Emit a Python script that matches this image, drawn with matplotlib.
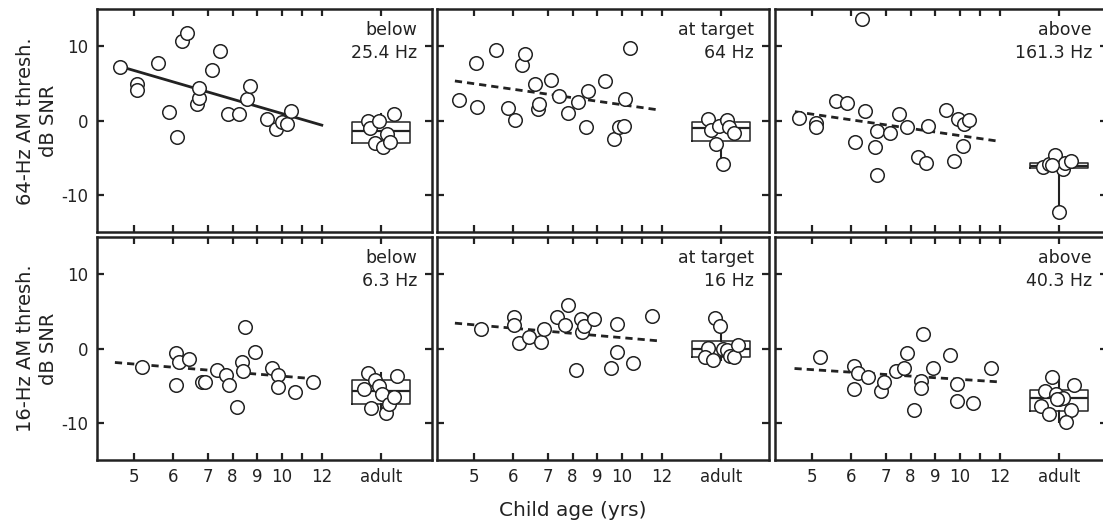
import numpy as np
import matplotlib.pyplot as plt

plt.rcParams['font.family'] = 'DejaVu Sans'
plt.rcParams['axes.unicode_minus'] = False

# ---- data ----
# child ages (yrs) and thresholds (dB SNR) per panel, row-major
age_64_below = [4.66, 5.09, 5.09, 5.61, 5.90, 6.10, 6.26, 6.39, 6.67, 6.75, 6.75,
                7.15, 7.49, 7.83, 8.28, 8.57, 8.71, 9.38, 9.76, 9.99, 10.26, 10.43]
thr_64_below = [7.24, 4.98, 4.16, 7.69, 1.22, -2.17, 10.77, 11.76, 2.26, 3.08, 4.43,
                6.79, 9.41, 0.90, 0.90, 2.94, 4.66, 0.23, -1.13, -0.23, -0.45, 1.36]

age_64_at = [4.62, 5.06, 5.08, 5.56, 5.86, 6.05, 6.24, 6.34, 6.63, 6.72, 6.74, 7.11,
             7.46, 7.83, 8.23, 8.64, 8.55, 9.31, 9.69, 9.89, 10.10, 10.15, 10.40]
thr_64_at = [2.85, 7.78, 1.90, 9.50, 1.67, 0.09, 7.47, 8.96, 4.89, 1.58, 2.26, 5.52,
             3.26, 1.04, 2.58, 3.98, -0.90, 5.29, -2.49, -0.81, -0.68, 2.94, 9.73]

age_64_above = [4.67, 5.11, 5.11, 5.61, 5.88, 6.30, 6.11, 6.39, 6.68, 6.75, 6.75, 7.16,
                7.54, 7.87, 8.32, 8.62, 8.72, 9.42, 9.76, 9.93, 10.20, 10.13, 10.45]
thr_64_above = [0.32, -0.36, -0.90, 2.71, 2.40, 13.67, -2.81, 1.36, -3.48, -1.36, -7.24,
                -1.58, 0.90, -0.90, -4.89, -5.66, -0.77, 1.49, -5.43, 0.23, -0.45, -3.39, 0.09]

age_16_below = [5.20, 6.07, 6.16, 6.07, 6.46, 6.82, 6.91, 7.38, 7.73, 7.86, 8.17,
                8.40, 8.41, 8.51, 8.91, 9.58, 9.83, 9.83, 10.64, 11.52]
thr_16_below = [-2.47, -0.54, -1.79, -4.89, -1.43, -4.48, -4.57, -2.87, -3.54, -4.89, -7.85,
                -1.79, -3.09, 2.91, -0.45, -2.69, -3.54, -5.16, -5.83, -4.44]

age_16_at = [5.18, 6.03, 6.03, 6.17, 6.45, 6.80, 6.89, 7.35, 7.69, 7.80, 8.14,
             8.34, 8.37, 8.46, 8.87, 9.54, 9.79, 9.79, 10.55, 11.47]
thr_16_at = [2.60, 4.30, 3.18, 0.72, 1.61, 0.81, 2.60, 4.26, 3.14, 5.83, -2.87,
             3.95, 2.24, 3.05, 3.95, -2.69, -0.45, 3.36, -1.97, 4.39]

age_16_above = [5.21, 6.09, 6.18, 6.09, 6.47, 6.85, 6.94, 7.40, 7.73, 7.87, 8.15,
                8.43, 8.43, 8.49, 8.92, 9.60, 9.86, 9.86, 10.62, 11.54]
thr_16_above = [-1.21, -2.33, -3.36, -5.47, -3.90, -5.78, -4.48, -3.09, -2.69, -0.63, -8.25,
                -4.35, -5.38, 1.93, -2.69, -0.85, -4.80, -7.04, -7.35, -2.56]

# adult thresholds, with horizontal jitter (yrs) around the adult slot
adult_dx = [
    [-0.33, -0.27, -0.06, 0.32, -0.14, 0.05, 0.15, 0.22],
    [-0.33, -0.24, -0.06, 0.15, 0.21, 0.32, -0.12, 0.05],
    [-0.40, -0.25, -0.10, 0.10, 0.15, 0.31, 0.00, -0.17],
    [-0.33, -0.42, -0.16, -0.06, 0.03, -0.24, 0.12, 0.19, 0.32, 0.40],
    [-0.14, -0.03, -0.33, -0.41, -0.21, 0.05, 0.15, 0.23, 0.32, 0.42],
    [-0.17, 0.38, -0.35, -0.08, 0.00, 0.10, -0.46, -0.25, 0.29, 0.18, -0.04],
]
adult_thr = [
    [-0.09, -1.00, -0.09, 0.90, -2.94, -3.53, -1.81, -2.80],
    [0.23, -1.27, -0.68, 0.09, -0.81, -1.58, -3.08, -5.79],
    [-6.24, -5.79, -4.62, -6.43, -5.66, -5.34, -12.22, -5.88],
    [-3.36, -5.47, -4.26, -5.02, -6.14, -7.94, -8.61, -7.40, -6.50, -3.68],
    [4.04, 3.05, 0.13, -1.21, -1.52, -0.09, -0.18, -0.99, -1.21, 0.45],
    [-3.81, -4.89, -5.70, -6.14, -6.82, -6.68, -7.71, -8.83, -8.25, -9.87, -6.77],
]
# adult box: q1, median, q3, whisker low, whisker high
adult_box = [
    (-2.94, -1.36, -0.23, -3.53, 0.90),
    (-2.71, -1.04, -0.23, -5.79, 0.23),
    (-6.33, -6.02, -5.66, -12.22, -4.62),
    (-7.49, -5.78, -4.22, -8.61, -3.36),
    (-1.21, 0.00, 1.03, -1.52, 4.04),
    (-8.39, -6.68, -5.56, -9.87, -3.81),
]
# regression lines: (age start, age end, thr start, thr end)
fit_lines = [
    (4.84, 11.98, 7.01, -0.59),
    (4.53, 11.72, 5.34, 1.49),
    (4.58, 11.82, 1.22, -2.71),
    (4.53, 11.22, -1.88, -3.99),
    (4.53, 11.81, 3.41, 1.03),
    (4.57, 11.87, -2.69, -4.48),
]
fit_solid = [True, False, False, False, False, False]

panel_text = ["below\n25.4 Hz", "at target\n64 Hz", "above\n161.3 Hz",
              "below\n6.3 Hz", "at target\n16 Hz", "above\n40.3 Hz"]
row_labels = ["64-Hz AM thresh.\ndB SNR", "16-Hz AM thresh.\ndB SNR"]

child_ages = [age_64_below, age_64_at, age_64_above, age_16_below, age_16_at, age_16_above]
child_thr = [thr_64_below, thr_64_at, thr_64_above, thr_16_below, thr_16_at, thr_16_above]

xticks = [5, 6, 7, 8, 9, 10, 11, 12, 15]
xticklabels = ["5", "6", "7", "8", "9", "10", "", "12", "adult"]
ADULT_X = 15

# age axis as drawn in the paper (piecewise spacing, adult slot at the right)
AGE_ANCH = [0, 4, 5, 6, 7, 8, 9, 10, 11, 12, 14, 15, 16, 17, 30]
POS_ANCH = [-163.3, -3.3, 36.7, 76.3, 111, 135.5, 160.2, 185, 205.2, 225.2, 244, 284, 324, 364, 884]


def fwd(a):
    return np.interp(a, AGE_ANCH, POS_ANCH)


def inv(p):
    return np.interp(p, POS_ANCH, AGE_ANCH)


ink = '#222222'
W, H = 1103, 526
fig = plt.figure(figsize=(W / 100, H / 100), dpi=100)

cols = [(97, 432), (437, 769), (775, 1107)]
rows = [(9, 232.5), (237, 460)]

for i in range(6):
    r, c = divmod(i, 3)
    x0, x1 = cols[c]
    y0, y1 = rows[r]
    ax = fig.add_axes([x0 / W, 1 - y1 / H, (x1 - x0) / W, (y1 - y0) / H])
    ax.set_xscale('function', functions=(fwd, inv))
    ax.set_xlim(inv(0), inv(x1 - x0))
    ax.set_ylim(-15, 15)

    # adult box
    q1, med, q3, lo, hi = adult_box[i]
    ax.bxp([dict(med=med, q1=q1, q3=q3, whislo=lo, whishi=hi, fliers=[])],
           positions=[ADULT_X], widths=1.45, showcaps=False, showfliers=False,
           manage_ticks=False,
           boxprops=dict(color=ink, lw=1.1),
           medianprops=dict(color=ink, lw=1.6),
           whiskerprops=dict(color=ink, lw=1.5))

    # regression line
    a0, a1, t0, t1 = fit_lines[i]
    ls = '-' if fit_solid[i] else (0, (2.6, 1.8))
    ax.plot([a0, a1], [t0, t1], color=ink, lw=2, ls=ls, zorder=2)

    ax.scatter(child_ages[i], child_thr[i], s=95, facecolor='white',
               edgecolor=ink, linewidth=1.1, zorder=3)
    ax.scatter(ADULT_X + np.array(adult_dx[i]), adult_thr[i], s=95,
               facecolor='white', edgecolor=ink, linewidth=1.1, zorder=3)

    ax.text(0.955, 0.945, panel_text[i], transform=ax.transAxes, ha='right',
            va='top', fontsize=12.5, color=ink, linespacing=1.35)

    ax.set_xticks(xticks)
    ax.set_xticklabels(xticklabels)
    ax.xaxis.set_minor_locator(plt.NullLocator())
    ax.set_yticks([-10, 0, 10])
    ax.set_yticklabels(["-10", "0", "10"])
    ax.tick_params(direction='in', length=5, width=1.6, top=True, right=True,
                   labelsize=12, colors=ink, labelcolor=ink, pad=6,
                   labelbottom=(r == 1), labelleft=(c == 0))
    for s in ax.spines.values():
        s.set_linewidth(1.8)
        s.set_color(ink)
    if c == 0:
        ax.set_ylabel(row_labels[r], fontsize=14, color=ink, linespacing=1.25,
                      labelpad=3)

fig.text(573 / W, 1 - 510 / H, "Child age (yrs)", ha='center', va='center',
         fontsize=14.5, color=ink)

fig.savefig('out.png', dpi=100)
